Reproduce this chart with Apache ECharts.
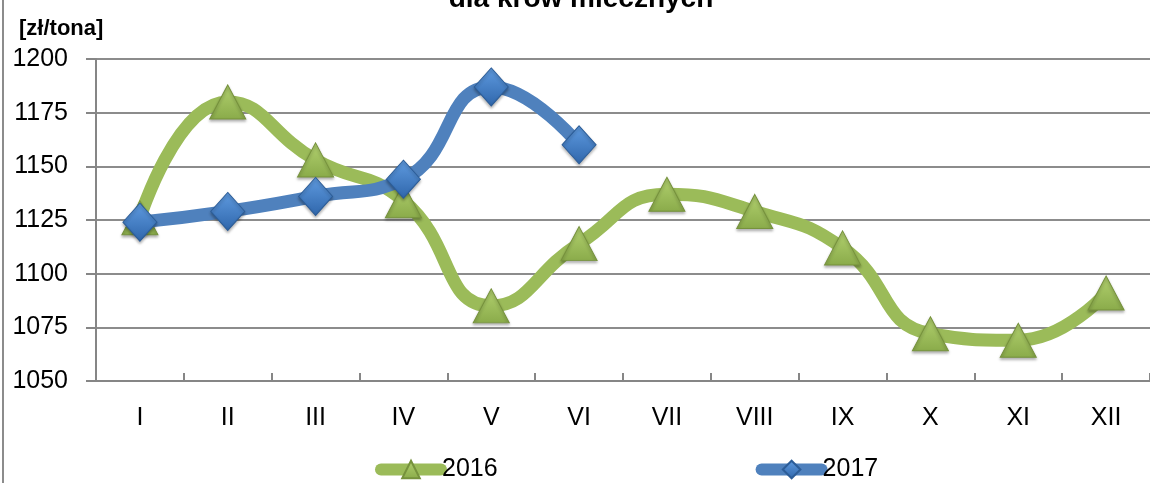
<!DOCTYPE html>
<html>
<head>
<meta charset="utf-8">
<script src="https://cdn.jsdelivr.net/npm/echarts@6/dist/echarts.min.js"></script>
<style>
  html, body { margin: 0; padding: 0; background: #fff; }
  #chart { width: 1150px; height: 483px; }
</style>
</head>
<body>
<div id="chart"></div>
<script>
const months = ["I", "II", "III", "IV", "V", "VI", "VII", "VIII", "IX", "X", "XI", "XII"];
const prices2016 = [1126, 1180, 1153, 1134, 1085, 1114, 1137, 1129, 1112, 1072, 1069, 1091];
const prices2017 = [1124, 1129, 1136, 1144, 1187, 1160];
const yTicks = { min: 1050, max: 1200, step: 25 };

const font = "'Liberation Sans', Arial, sans-serif";
const GREEN = "#9bbb59";
const BLUE = "#4f81bd";

const chart = echarts.init(document.getElementById("chart"));

chart.setOption({
  animation: false,
  textStyle: { fontFamily: font },
  title: [
    {
      text: "dla krów mlecznych",
      left: 576,
      top: -20,
      textAlign: "center",
      textStyle: { fontFamily: font, fontSize: 28, fontWeight: "bold", color: "#000" },
    },
    {
      text: "[zł/tona]",
      left: 14,
      top: 13,
      textStyle: { fontFamily: font, fontSize: 22, fontWeight: "bold", color: "#000" },
    },
  ],
  graphic: [
    {
      type: "line",
      shape: { x1: 3, y1: 0, x2: 3, y2: 483 },
      style: { stroke: "#8c8c8c", lineWidth: 2 },
    },
  ],
  grid: { left: 96, top: 59, width: 1058, bottom: 102, containLabel: false },
  legend: {
    bottom: -4,
    left: 370,
    itemGap: 258,
    itemWidth: 60,
    itemHeight: 22,
    lineStyle: { width: 12, cap: "round" },
    textStyle: { fontFamily: font, fontSize: 25, color: "#000", padding: [0, 0, 0, -4] },
    data: ["2016", "2017"],
  },
  xAxis: {
    type: "category",
    data: months,
    boundaryGap: true,
    axisLine: { lineStyle: { color: "#868686", width: 2 } },
    axisTick: { show: true, inside: true, length: 8, lineStyle: { color: "#868686", width: 2 } },
    axisLabel: { fontFamily: font, fontSize: 25, color: "#000", margin: 25 },
    splitLine: { show: false },
  },
  yAxis: {
    type: "value",
    min: yTicks.min,
    max: yTicks.max,
    interval: yTicks.step,
    axisLine: { show: true, lineStyle: { color: "#868686", width: 2 } },
    axisTick: { show: true, length: 10, lineStyle: { color: "#868686", width: 2 } },
    axisLabel: {
      fontFamily: font,
      fontSize: 25,
      color: "#000",
      margin: 28,
      formatter: (v) => String(v),
    },
    splitLine: { show: true, lineStyle: { color: "#8c8c8c", width: 2 } },
  },
  series: [
    {
      name: "2016",
      type: "line",
      data: prices2016,
      smooth: 0.5,
      symbol: "triangle",
      symbolSize: [36, 34],
      lineStyle: { color: GREEN, width: 13 },
      itemStyle: {
        color: new echarts.graphic.LinearGradient(0, 0, 0, 1, [
          { offset: 0, color: "#b2d16f" },
          { offset: 1, color: "#8aab4a" },
        ]),
        borderColor: "#76923c",
        borderWidth: 1,
        shadowColor: "rgba(0,0,0,0.3)",
        shadowBlur: 3,
        shadowOffsetY: 2,
      },
      z: 2,
    },
    {
      name: "2017",
      type: "line",
      data: prices2017,
      smooth: 0.5,
      symbol: "diamond",
      symbolSize: [34, 38],
      lineStyle: { color: BLUE, width: 13 },
      itemStyle: {
        color: new echarts.graphic.LinearGradient(0, 0, 0, 1, [
          { offset: 0, color: "#5f9be0" },
          { offset: 1, color: "#2f66ab" },
        ]),
        borderColor: "#2c5d98",
        borderWidth: 1,
        shadowColor: "rgba(0,0,0,0.3)",
        shadowBlur: 3,
        shadowOffsetY: 2,
      },
      z: 3,
    },
  ],
});
</script>
</body>
</html>
